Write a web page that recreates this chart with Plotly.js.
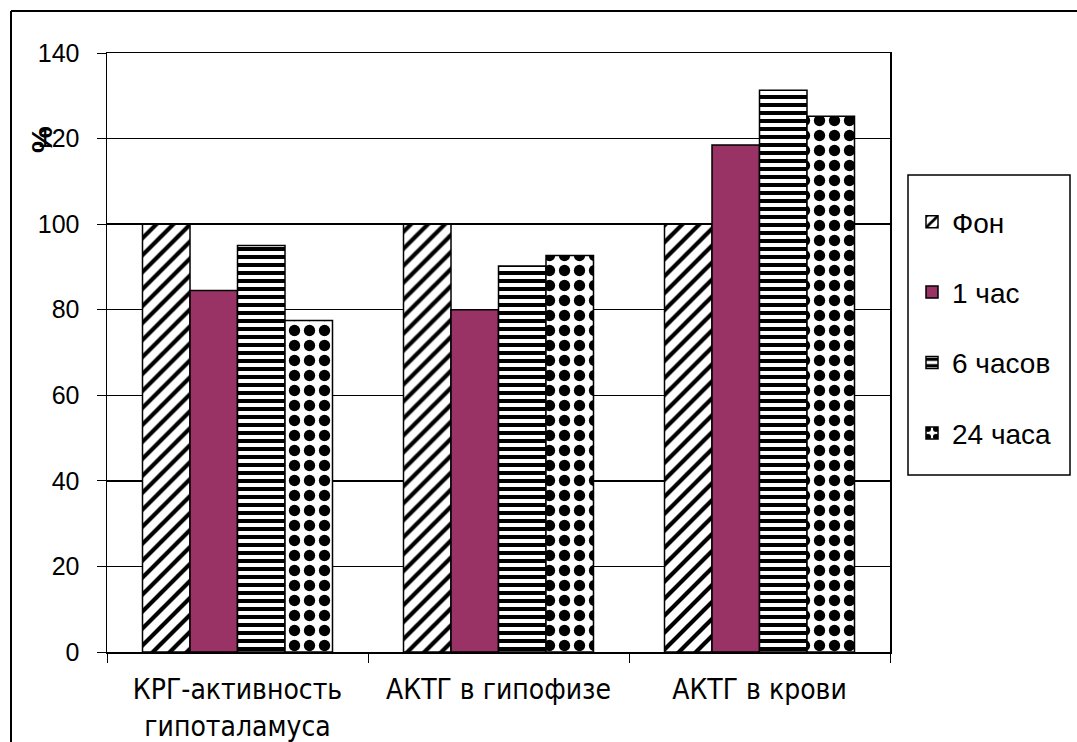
<!DOCTYPE html>
<html>
<head>
<meta charset="utf-8">
<script src="https://cdn.plot.ly/plotly-3.0.1.min.js"></script>
<style>html,body{margin:0;padding:0;background:#fff;}</style>
</head>
<body>
<div id="chart" style="width:1077px;height:742px;"></div>
<script>
const categories = ["КРГ-активность<br>гипоталамуса", "АКТГ в гипофизе", "АКТГ в крови"];
const seriesNames = ["Фон", "1 час", "6 часов", "24 часа"];
const fon = [100, 100, 100];
const hour1 = [84.5, 80, 118.5];
const hour6 = [95, 90.2, 131.3];
const hour24 = [77.5, 92.7, 125.2];
const yTicks = [0, 20, 40, 60, 80, 100, 120, 140];

const L = 107, R = 187, T = 53, B = 90, W = 1077, H = 742;
const pw = W - L - R, ph = H - T - B;
const px = x => (x - L) / pw;
const py = y => (H - B - y) / ph;

const line = {color: "#000", width: 1.5};
function mk(name, y, marker, i) {
  return {type: "bar", name: name, x: categories, y: y, marker: marker,
          legendgroup: "g" + i, hoverinfo: "y"};
}
const data = [
  mk(seriesNames[0], fon, {color: "#fff", line: line, pattern: {shape: "/", fgcolor: "#000", bgcolor: "#fff", size: 12, solidity: 0.35}}, 0),
  mk(seriesNames[1], hour1, {color: "#993366", line: line}, 1),
  mk(seriesNames[2], hour6, {color: "#fff", line: line, pattern: {shape: "-", fgcolor: "#000", bgcolor: "#fff", size: 8, solidity: 0.5}}, 2),
  mk(seriesNames[3], hour24, {color: "#fff", line: line, pattern: {shape: ".", fgcolor: "#000", bgcolor: "#fff", size: 15, solidity: 0.45}}, 3)
];

const layout = {
  width: W, height: H,
  margin: {l: L, r: R, t: T, b: B, pad: 0},
  paper_bgcolor: "#fff", plot_bgcolor: "#fff",
  font: {family: "Liberation Sans, Arial, sans-serif", color: "#000", size: 24},
  barmode: "group", bargap: 0.272, bargroupgap: 0,
  showlegend: true,
  legend: {x: px(912), y: py(197), xanchor: "left", yanchor: "top",
           borderwidth: 0, bgcolor: "rgba(0,0,0,0)",
           font: {size: 28, family: "Liberation Sans, Arial, sans-serif"},
           tracegroupgap: 31, itemwidth: 30, traceorder: "grouped"},
  xaxis: {type: "category", showline: true, linecolor: "#000", linewidth: 1.5, mirror: true,
          ticks: "outside", tickson: "boundaries", ticklen: 9, tickcolor: "#000", tickwidth: 1,
          ticklabelstandoff: 12,
          tickfont: {family: "DejaVu Sans Condensed, Liberation Sans Narrow, Liberation Sans, sans-serif", size: 28},
          showgrid: false, fixedrange: true},
  yaxis: {range: [0, 140], tickvals: yTicks, ticktext: yTicks.map(String),
          showline: true, linecolor: "#000", linewidth: 1.5, mirror: true,
          ticks: "outside", ticklen: 9, tickcolor: "#000", tickwidth: 1, ticklabelstandoff: 12,
          showgrid: true, gridcolor: "#000", gridwidth: 1.5, zeroline: false,
          tickfont: {size: 25}, fixedrange: true},
  annotations: [{text: "<b>%</b>", xref: "paper", yref: "paper", x: px(41), y: py(140),
                 xanchor: "center", yanchor: "middle",
                 showarrow: false, textangle: -90, font: {size: 30}}],
  shapes: [
    {type: "line", xref: "paper", yref: "paper", x0: px(11), x1: px(W + 5), y0: py(11), y1: py(11), line: {color: "#000", width: 2}},
    {type: "line", xref: "paper", yref: "paper", x0: px(11), x1: px(11), y0: py(11), y1: py(H + 5), line: {color: "#000", width: 2}},
    {type: "rect", xref: "paper", yref: "paper", x0: px(908), x1: px(1070), y0: py(175), y1: py(475), line: {color: "#000", width: 1.5}}
  ]
};
Plotly.newPlot("chart", data, layout, {displayModeBar: false, staticPlot: true});
</script>
</body>
</html>
